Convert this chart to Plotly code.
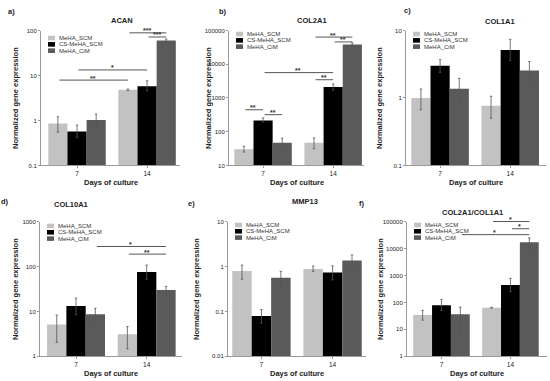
import math
import plotly.graph_objects as go

# ---------------- data ----------------
DAYS = ["7", "14"]
SERIES = ["MeHA_SCM", "CS-MeHA_SCM", "MeHA_CiM"]

# values per series: [day 7, day 14]; UP / LO = error bar ends
ACAN_MEAN = [[0.86, 4.8], [0.57, 5.8], [1.02, 60]]
ACAN_UP = [[1.21, 5.0], [0.79, 7.6], [1.39, 65]]
ACAN_LO = [[0.55, 4.6], [0.42, 4.6], [0.68, 55]]
ACAN_TICKS = [0.1, 1, 10, 100]
ACAN_SIG = [(0, 2, 1, 2, 120, "***"), (1, 0, 1, 2, 89, "***"), (1, 1, 1, 2, 72, "***"),
            (0, 1, 1, 1, 13.3, "*"), (0, 0, 1, 0, 7.9, "**")]

COL2A1_MEAN = [[30, 47], [215, 2100], [47, 38700]]
COL2A1_UP = [[37, 65], [257, 2600], [64, 43000]]
COL2A1_LO = [[25, 31], [195, 1700], [35, 34000]]
COL2A1_TICKS = [10, 100, 1000, 10000, 100000]
COL2A1_SIG = [(0, 2, 1, 2, 119000, "**"), (1, 0, 1, 2, 64000, "**"), (1, 1, 1, 2, 46000, "**"),
              (0, 1, 1, 1, 5660, "**"), (1, 0, 1, 1, 3480, "**"),
              (0, 0, 0, 1, 447, "**"), (0, 1, 0, 2, 320, "**")]

COL1A1_MEAN = [[1.0, 0.77], [3.0, 5.17], [1.37, 2.56]]
COL1A1_UP = [[1.36, 1.06], [3.7, 7.4], [1.95, 3.47]]
COL1A1_LO = [[0.67, 0.5], [2.4, 3.6], [0.81, 1.67]]
COL1A1_TICKS = [0.1, 1, 10]
COL1A1_SIG = []

COL10A1_MEAN = [[5.1, 3.1], [13.1, 75], [8.6, 30]]
COL10A1_UP = [[8.3, 4.6], [19.8, 107], [11.7, 36]]
COL10A1_LO = [[2.05, 1.46], [8.5, 52], [5.6, 23]]
COL10A1_TICKS = [1, 10, 100, 1000]
COL10A1_SIG = [(0, 2, 1, 2, 278, "*"), (1, 0, 1, 2, 188, "**")]

MMP13_MEAN = [[0.79, 0.88], [0.079, 0.73], [0.56, 1.35]]
MMP13_UP = [[1.07, 1.02], [0.11, 1.03], [0.78, 1.8]]
MMP13_LO = [[0.52, 0.78], [0.055, 0.5], [0.385, 0.88]]
MMP13_TICKS = [0.01, 0.1, 1, 10]
MMP13_SIG = []

RATIO_MEAN = [[34, 64], [78, 443], [36, 17000]]
RATIO_UP = [[51, 66], [129, 777], [67, 24600]]
RATIO_LO = [[22, 62], [50, 250], [8.2, 9700]]
RATIO_TICKS = [1, 10, 100, 1000, 10000, 100000]
RATIO_SIG = [(1, 0, 1, 2, 100000, "*"), (1, 1, 1, 2, 54000, "*"), (0, 2, 1, 2, 32600, "*")]

# ---------------- styling / layout ----------------
W, H = 550, 381
COLORS = ["#c2c2c2", "#000000", "#5a5a5a"]
FONT = "Liberation Sans, Arial, sans-serif"
BARGAP = 0.18
BW = (1 - BARGAP) / 3
AXC = "#9a9a9a"
TXT = "#222222"

# (title, letter, mean, up, lo, ticks, sig, x-px domain, y-px domain, x range,
#  title pos px, letter pos px, y-title offset px, legend top offset px)
PANELS = [
    ("ACAN", "a)", ACAN_MEAN, ACAN_UP, ACAN_LO, ACAN_TICKS, ACAN_SIG,
     (41, 180), (28, 165), (-0.514, 1.47), (122, 18), (11, 9), -25, 5),
    ("COL2A1", "b)", COL2A1_MEAN, COL2A1_UP, COL2A1_LO, COL2A1_TICKS, COL2A1_SIG,
     (229, 364), (28, 165), (-0.486, 1.44), (312, 18), (223, 9), -20, 1),
    ("COL1A1", "c)", COL1A1_MEAN, COL1A1_UP, COL1A1_LO, COL1A1_TICKS, COL1A1_SIG,
     (406, 546), (28, 165), (-0.486, 1.51), (500, 19), (407, 8), -26, 1),
    ("COL10A1", "d)", COL10A1_MEAN, COL10A1_UP, COL10A1_LO, COL10A1_TICKS, COL10A1_SIG,
     (40, 182), (222, 359), (-0.51, 1.50), (71, 205), (5, 202), -24, 2),
    ("MMP13", "e)", MMP13_MEAN, MMP13_UP, MMP13_LO, MMP13_TICKS, MMP13_SIG,
     (228, 366), (222, 359), (-0.47, 1.47), (305, 202), (191, 204), -31, 1),
    ("COL2A1/COL1A1", "f)", RATIO_MEAN, RATIO_UP, RATIO_LO, RATIO_TICKS, RATIO_SIG,
     (407, 547), (222, 359), (-0.50, 1.53), (472, 213), (361, 204), -26, 1),
]


def xpos(day, s):
    return day + (s - 1) * BW


fig = go.Figure()
annotations = []
shapes = []
layout_axes = {}

for k, (title, letter, mean, up, lo, ticks, sig, xd, yd, xr, tpos, lpos, yto, legtop) in enumerate(PANELS):
    n = "" if k == 0 else str(k + 1)
    xref, yref = "x" + n, "y" + n
    for s, name in enumerate(SERIES):
        m = mean[s]
        fig.add_trace(go.Bar(
            x=[0, 1], y=m, name=name, xaxis=xref, yaxis=yref,
            offsetgroup=str(s), showlegend=False,
            marker=dict(color=COLORS[s], line=dict(width=0)),
            error_y=dict(type="data", symmetric=False,
                         array=[up[s][i] - m[i] for i in range(2)],
                         arrayminus=[m[i] - lo[s][i] for i in range(2)],
                         color="#555555", thickness=0.8, width=1.2),
        ))
    lg0, lg1 = math.log10(ticks[0]), math.log10(ticks[-1])
    layout_axes["xaxis" + n] = dict(
        domain=[xd[0] / W, xd[1] / W], anchor=yref, range=list(xr),
        tickvals=[0, 1], ticktext=DAYS, showline=True, linecolor=AXC, linewidth=1,
        ticks="outside", ticklen=2, tickcolor=AXC, showgrid=False, zeroline=False,
        tickfont=dict(family=FONT, size=6.5, color=TXT), fixedrange=True)
    layout_axes["yaxis" + n] = dict(
        domain=[1 - yd[1] / H, 1 - yd[0] / H], anchor=xref, type="log",
        range=[lg0, lg1], tickvals=ticks, ticktext=[f"{t:g}" for t in ticks],
        showline=True, linecolor=AXC, linewidth=1, ticks="outside", ticklen=2,
        tickcolor=AXC, showgrid=False, zeroline=False,
        tickfont=dict(family=FONT, size=6, color=TXT), fixedrange=True)

    # titles / labels
    annotations.append(dict(text=title, x=tpos[0] / W, y=1 - tpos[1] / H, xref="paper", yref="paper",
                            showarrow=False, xanchor="center", yanchor="middle",
                            font=dict(family=FONT, size=7.5, color=TXT, weight="bold")))
    annotations.append(dict(text=letter, x=lpos[0] / W, y=1 - lpos[1] / H, xref="paper", yref="paper",
                            showarrow=False, xanchor="center", yanchor="middle",
                            font=dict(family=FONT, size=7.5, color=TXT, weight="bold")))
    annotations.append(dict(text="Days of culture", x=0.5, y=0, xref=xref + " domain",
                            yref=yref + " domain", yshift=-17, showarrow=False,
                            xanchor="center", yanchor="middle",
                            font=dict(family=FONT, size=7.5, color=TXT, weight="bold")))
    annotations.append(dict(text="Normalized gene expression", x=0, y=0.5, xref=xref + " domain",
                            yref=yref + " domain", xshift=yto, showarrow=False, textangle=-90,
                            xanchor="center", yanchor="middle",
                            font=dict(family=FONT, size=7.5, color=TXT, weight="bold")))

    # in-plot legend
    for s, name in enumerate(SERIES):
        cy = legtop + 2.5 + s * 6.3
        shapes.append(dict(type="rect", xref=xref + " domain", yref=yref + " domain",
                           xsizemode="pixel", ysizemode="pixel", xanchor=0, yanchor=1,
                           x0=7, x1=14, y0=-(cy - 2.3), y1=-(cy + 2.3),
                           fillcolor=COLORS[s], line=dict(width=0)))
        annotations.append(dict(text=name, x=0, y=1, xref=xref + " domain", yref=yref + " domain",
                                xshift=16, yshift=-cy, showarrow=False, xanchor="left",
                                yanchor="middle",
                                font=dict(family=FONT, size=6, color="#333333")))

    # significance brackets
    for (d1, s1, d2, s2, v, lab) in sig:
        x1, x2 = xpos(d1, s1), xpos(d2, s2)
        ly = math.log10(v)
        annotations.append(dict(text="", x=x2, y=ly, ax=x1, ay=ly, xref=xref, yref=yref,
                                axref=xref, ayref=yref, showarrow=True, arrowhead=0,
                                arrowwidth=0.9, arrowcolor="#444444", standoff=0,
                                startstandoff=0))
        annotations.append(dict(text=lab, x=(x1 + x2) / 2, y=ly, xref=xref, yref=yref,
                                showarrow=False, xanchor="center", yanchor="middle",
                                yshift=2,
                                font=dict(family=FONT, size=7, color="#333333", weight="bold")))

fig.update_layout(
    width=W, height=H, margin=dict(l=0, r=0, t=0, b=0),
    paper_bgcolor="white", plot_bgcolor="white",
    barmode="group", bargap=BARGAP, bargroupgap=0,
    showlegend=False, annotations=annotations, shapes=shapes,
    **layout_axes,
)
fig.write_html("out.html", config={"displayModeBar": False, "staticPlot": True},
               post_script="document.body.style.margin='0';document.body.style.overflow='hidden';")
